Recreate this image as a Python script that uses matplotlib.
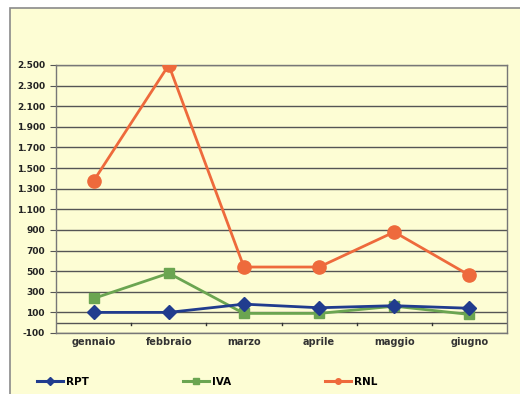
import matplotlib
matplotlib.use("Agg")
import matplotlib.pyplot as plt
from matplotlib.lines import Line2D

months = ["gennaio", "febbraio", "marzo", "aprile", "maggio", "giugno"]
rpt = [100, 100, 180, 145, 165, 140]
iva = [235, 480, 90, 90, 160, 80]
rnl = [1375, 2500, 540, 540, 880, 460]
yticks = [-100, 100, 300, 500, 700, 900, 1100, 1300, 1500, 1700, 1900, 2100, 2300, 2500]
ytick_labels = ["-100", "100", "300", "500", "700", "900", "1.100", "1.300",
                "1.500", "1.700", "1.900", "2.100", "2.300", "2.500"]

bg = "#FDFDD4"
fig = plt.figure(figsize=(5.2, 3.94), dpi=100, facecolor="white")
# chart frame
frame = plt.Rectangle((10/520, -0.05), 1.1, 1 - 8/394 + 0.05, transform=fig.transFigure,
                      facecolor=bg, edgecolor="#8a8a8a", linewidth=1.2, zorder=-10)
fig.patches.append(frame)

ax = fig.add_axes([56/520, 1 - 333/394, (507 - 56)/520, (333 - 65)/394])
ax.set_facecolor(bg)
x = list(range(len(months)))
ax.set_xlim(-0.5, len(months) - 0.5)
ax.set_ylim(-100, 2500)
ax.set_yticks(yticks)
ax.set_yticklabels(ytick_labels, fontsize=6.5, fontweight="bold", color="#222222")
ax.yaxis.grid(True, color="#555555", linewidth=1.0)
ax.set_axisbelow(True)
for s in ax.spines.values():
    s.set_color("#777777")
    s.set_linewidth(1.0)
ax.tick_params(axis="y", length=4, color="#555555", pad=4)

# category axis at zero
ax.axhline(0, color="#555555", linewidth=1.0, zorder=1)
ax.set_xticks([])
for b in [i + 0.5 for i in range(len(months) - 1)]:
    ax.plot([b, b], [0, -25], color="#333333", linewidth=1.0, zorder=1, clip_on=False)
for i, m in enumerate(months):
    ax.text(i, -140, m, ha="center", va="top", fontsize=7, fontweight="bold", color="#333333")

c_rpt = "#213C8E"
c_iva = "#6BA551"
c_rnl = "#EE6A3C"
ax.plot(x, rpt, color=c_rpt, linewidth=2.0, marker="D", markersize=7, zorder=4)
ax.plot(x, iva, color=c_iva, linewidth=2.0, marker="s", markersize=7, zorder=3)
ax.plot(x, rnl, color=c_rnl, linewidth=2.0, marker="o", markersize=9.5, zorder=3)

handles = [Line2D([0], [0], color=c_rpt, lw=2.2, marker="D", markersize=4),
           Line2D([0], [0], color=c_iva, lw=2.2, marker="s", markersize=4),
           Line2D([0], [0], color=c_rnl, lw=2.2, marker="o", markersize=4)]
fig.legend(handles, ["RPT", "IVA", "RNL"], loc="center", bbox_to_anchor=(0.398, 1 - 382/394),
           ncol=3, frameon=False, columnspacing=9.0, handlelength=2.5,
           handletextpad=0.3, prop={"weight": "bold", "size": 7.5})

fig.savefig("out.png", dpi=100, facecolor="white")
